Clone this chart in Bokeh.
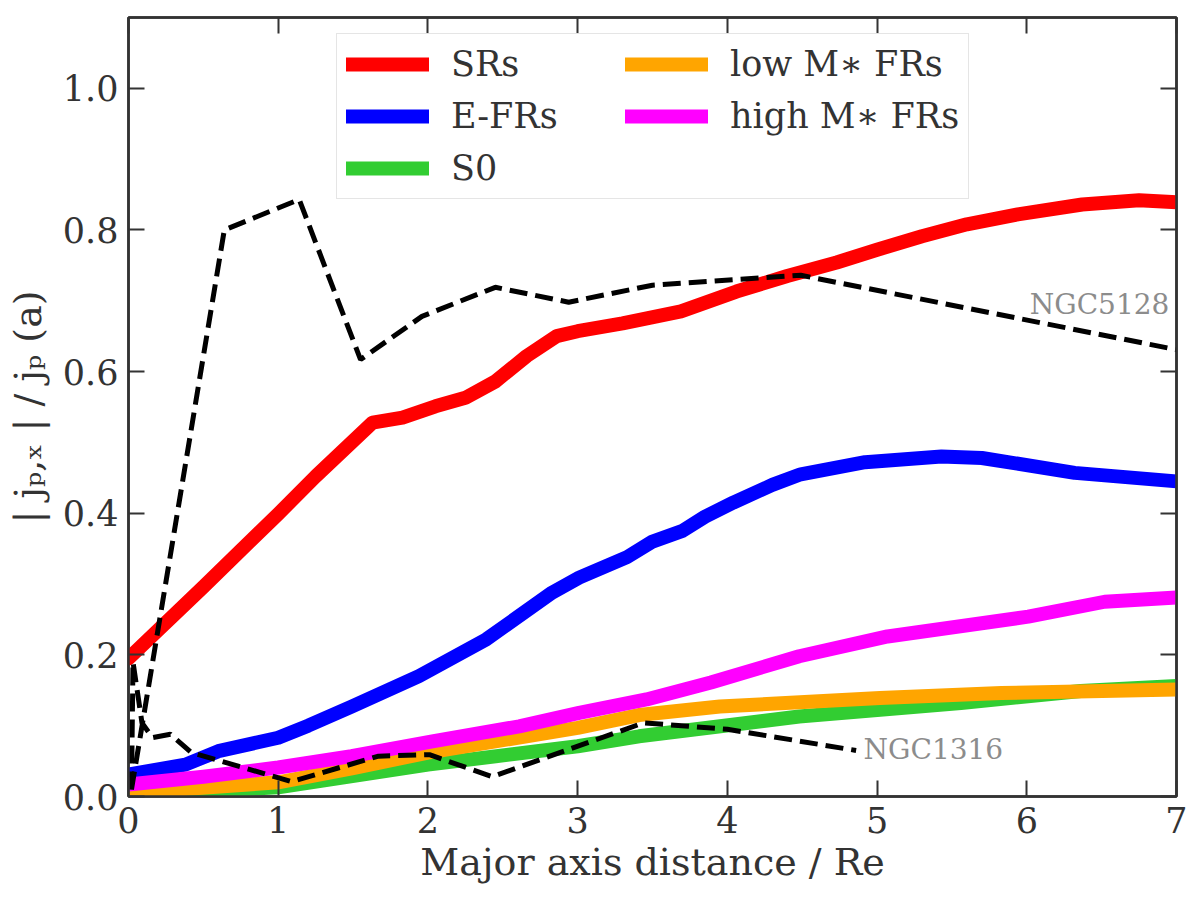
from bokeh.plotting import figure
from bokeh.models import (Range1d, LinearAxis, FixedTicker, PrintfTickFormatter,
                          Legend, LegendItem, Label)
from bokeh.embed import file_html
from bokeh.resources import INLINE

# ---------------- data ----------------
sr_x = [0.0, 0.5, 1.0, 1.25, 1.63, 1.83, 2.05, 2.25, 2.45, 2.66, 2.86, 3.0, 3.3, 3.69,
        4.06, 4.4, 4.73, 5.0, 5.3, 5.6, 5.94, 6.37, 6.75, 7.0]
sr_y = [0.195, 0.296, 0.399, 0.452, 0.528, 0.535, 0.551, 0.563, 0.586, 0.622, 0.650, 0.657,
        0.668, 0.685, 0.713, 0.735, 0.754, 0.772, 0.791, 0.808, 0.822, 0.836, 0.842, 0.839]

efr_x = [0.0, 0.38, 0.6, 1.0, 1.2, 1.49, 1.94, 2.39, 2.83, 3.01, 3.33, 3.5, 3.7, 3.85,
         4.04, 4.3, 4.49, 4.92, 5.43, 5.7, 6.32, 7.0]
efr_y = [0.031, 0.045, 0.064, 0.083, 0.100, 0.127, 0.170, 0.222, 0.288, 0.309, 0.338, 0.360,
         0.375, 0.395, 0.415, 0.440, 0.455, 0.472, 0.480, 0.478, 0.457, 0.445]

s0_x = [0.0, 1.0, 2.0, 3.0, 3.41, 4.48, 5.56, 6.36, 7.0]
s0_y = [0.002, 0.013, 0.045, 0.071, 0.085, 0.113, 0.132, 0.149, 0.156]

low_x = [0.0, 1.0, 1.5, 2.0, 3.0, 3.41, 3.95, 5.02, 5.83, 7.0]
low_y = [0.005, 0.020, 0.040, 0.062, 0.097, 0.115, 0.127, 0.139, 0.146, 0.151]

high_x = [0.0, 0.5, 1.0, 1.49, 2.03, 2.61, 3.01, 3.46, 3.89, 4.48, 5.07, 6.01, 6.52, 7.0]
high_y = [0.017, 0.028, 0.041, 0.057, 0.078, 0.099, 0.118, 0.137, 0.161, 0.198, 0.226,
          0.254, 0.275, 0.281]

n5128_x = [0.02, 0.64, 1.14, 1.55, 1.96, 2.45, 2.94, 3.5, 4.49, 7.0]
n5128_y = [0.01, 0.80, 0.843, 0.617, 0.678, 0.719, 0.698, 0.722, 0.736, 0.631]

n1316_x = [0.02, 0.03, 0.09, 0.16, 0.28, 0.42, 1.09, 1.67, 2.01, 2.43, 3.44, 4.0, 4.86]
n1316_y = [0.01, 0.19, 0.104, 0.083, 0.088, 0.062, 0.021, 0.057, 0.059, 0.028, 0.104,
           0.095, 0.065]

series_labels = ["SRs", "E-FRs", "S0", "low M\u2217 FRs", "high M\u2217 FRs"]
series_colors = ["#ff0000", "#0000ff", "#32cd32", "#ffa500", "#ff00ff"]

galaxy_names = ["NGC5128", "NGC1316"]
galaxy_label_x = [6.02, 4.91]
galaxy_label_y = [0.695, 0.066]

x_ticks = [0, 1, 2, 3, 4, 5, 6, 7]
y_ticks = [0.0, 0.2, 0.4, 0.6, 0.8, 1.0]

# ---------------- figure ----------------
FONT = "DejaVu Serif"
TXT = "#333333"
AX = "#333333"

p = figure(width=1190, height=889, output_backend="svg", toolbar_location=None,
           x_range=Range1d(0, 7), y_range=Range1d(0, 1.1),
           min_border_left=128, min_border_right=14, min_border_top=17,
           min_border_bottom=93)
p.xgrid.visible = False
p.ygrid.visible = False
p.outline_line_color = AX
p.outline_line_width = 2.5
p.background_fill_color = "white"
p.border_fill_color = "white"

def style_axis(ax, ticks, fmt, show_labels=True):
    ax.ticker = FixedTicker(ticks=ticks)
    ax.formatter = PrintfTickFormatter(format=fmt)
    ax.axis_line_color = AX
    ax.axis_line_width = 2.5
    ax.major_tick_line_color = AX
    ax.major_tick_line_width = 2
    ax.major_tick_in = 16
    ax.major_tick_out = 0
    ax.minor_tick_line_color = None
    ax.major_label_text_font = FONT
    if show_labels:
        ax.major_label_text_color = TXT
        ax.major_label_text_font_size = "35px"
        ax.major_label_standoff = 10
    else:
        ax.major_label_text_color = None
        ax.major_label_text_font_size = "1px"
        ax.major_label_standoff = 0
    ax.axis_label_text_font = FONT
    ax.axis_label_text_font_size = "38px"
    ax.axis_label_text_font_style = "normal"
    ax.axis_label_text_color = TXT

style_axis(p.xaxis[0], x_ticks, "%d")
style_axis(p.yaxis[0], y_ticks, "%.1f")
p.xaxis[0].axis_label = "Major axis distance / Re"
p.xaxis[0].axis_label_standoff = 4
p.yaxis[0].axis_label = "| j\u209a,\u2093 | / j\u209a (a)"
p.yaxis[0].axis_label_standoff = 10

top_ax = LinearAxis()
style_axis(top_ax, x_ticks, "%d", show_labels=False)
p.add_layout(top_ax, "above")
right_ax = LinearAxis()
style_axis(right_ax, y_ticks, "%.1f", show_labels=False)
p.add_layout(right_ax, "right")

# ---------------- lines ----------------
xs_all = [sr_x, efr_x, s0_x, low_x, high_x]
ys_all = [sr_y, efr_y, s0_y, low_y, high_y]
renderers = []
for xs, ys, c in zip(xs_all, ys_all, series_colors):
    r = p.line(xs, ys, line_color=c, line_width=14, line_cap="round", line_join="round")
    renderers.append(r)

p.line(n5128_x, n5128_y, line_color="black", line_width=5, line_dash="18 8")
p.line(n1316_x, n1316_y, line_color="black", line_width=5, line_dash="18 8")

for name, lx, ly in zip(galaxy_names, galaxy_label_x, galaxy_label_y):
    p.add_layout(Label(x=lx, y=ly, text=name, text_font=FONT, text_font_size="28px",
                       text_color="#8c8c8c", text_baseline="middle", text_align="left"))

legend = Legend(
    items=[LegendItem(label=l, renderers=[r]) for l, r in zip(series_labels, renderers)],
    location=(208, 597), orientation="vertical", nrows=3,
    label_text_font=FONT, label_text_font_size="35px", label_text_color=TXT,
    glyph_width=83, glyph_height=42, label_standoff=22, label_width=164,
    spacing=10, padding=9,
    border_line_color="#cccccc", border_line_width=1.5,
    background_fill_color="white", background_fill_alpha=0.9,
)
p.add_layout(legend)

open("out.html", "w").write(file_html(p, INLINE))
